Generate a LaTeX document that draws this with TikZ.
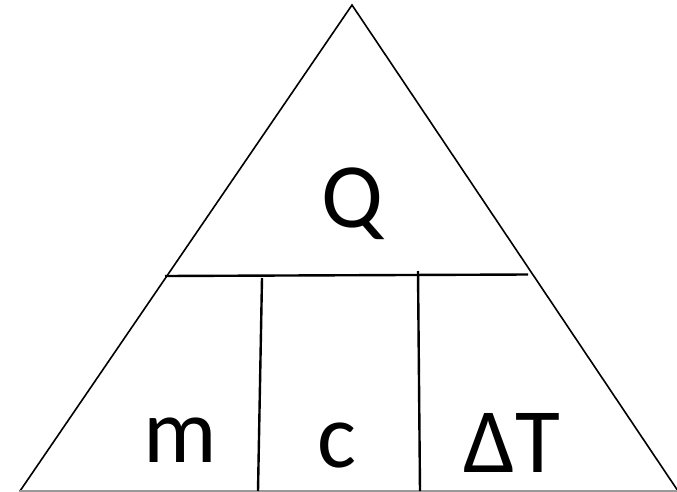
\documentclass[tikz,border=0pt]{standalone}
\usepackage{fontspec}
\setmainfont{Carlito}
\usetikzlibrary{calc}
\tikzset{
  edge/.style={draw=black, line width=1.6pt, line cap=round},
  split/.style={draw=black, line width=2.4pt},
  floor/.style={draw=black!40, line width=1.2pt},
  sym/.style={font=\fontsize{92}{92}\selectfont, anchor=base, inner sep=0pt},
}
\begin{document}
\begin{tikzpicture}[x=1pt,y=-1pt]
    \useasboundingbox (0,0) rectangle (677,492);
    \coordinate (apex)  at (352,5);
    \coordinate (left)  at (20,491);
    \coordinate (right) at (678,491);
    \draw[edge] (left) -- (apex) -- (right);
    \draw[floor] (left) -- (677,491);
    % bar under Q and the two dividers
    \coordinate (barL) at (165,276);
    \coordinate (barR) at (528,274.5);
    \draw[split] (barL) -- (barR);
    \coordinate (divA) at (262,278);
    \coordinate (divB) at (418,271);
    \draw[split] (divA) -- (258,491);
    \draw[split] (divB) -- (420,491);
    \node[sym] (q)  at (352,227) {Q};
    \node[sym] (m)  at (180,462) {m};
    \node[sym] (c)  at (337,467) {c};
    \node[sym] (dt) at (512,472) {ΔT};
\end{tikzpicture}
\end{document}
